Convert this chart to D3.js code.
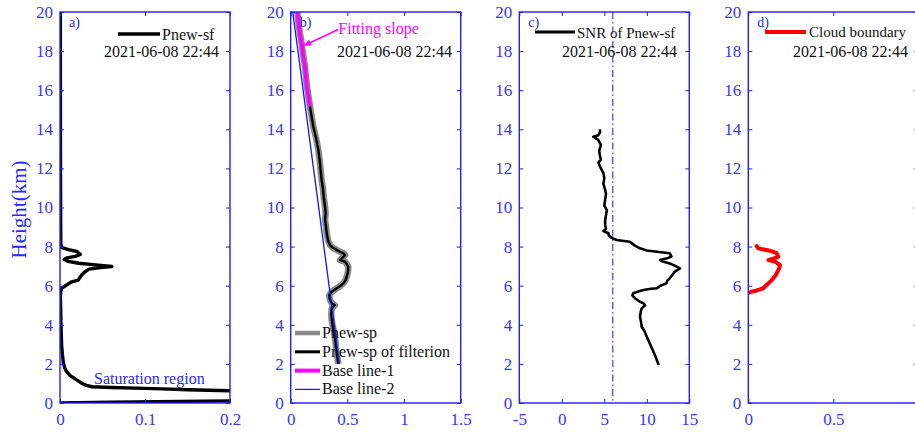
<!DOCTYPE html>
<html>
<head>
<meta charset="utf-8">
<script src="https://cdn.jsdelivr.net/npm/d3@7"></script>
<style>
  html, body { margin: 0; padding: 0; background: #fff; }
  svg { display: block; }
  text { font-family: "Liberation Serif", "Times New Roman", serif; }
</style>
</head>
<body>
<svg id="chart" width="915" height="435"></svg>
<script>
// Lidar profiles, 2021-06-08 22:44 — each series is [height (km), value]
const timeStamp = "2021-06-08 22:44";
const heightTicks = [0, 2, 4, 6, 8, 10, 12, 14, 16, 18, 20];

// a) Pnew-sf
const pnewSf = [
  [0.00, 0.000], [0.04, 0.060], [0.08, 0.140], [0.11, 0.200], [0.13, 0.260],
  [0.35, 1.500], [0.60, 0.250], [0.63, 0.200], [0.68, 0.150], [0.72, 0.120],
  [0.75, 0.100], [0.79, 0.060], [0.83, 0.038], [0.90, 0.031], [1.00, 0.026],
  [1.18, 0.0196], [1.40, 0.012], [1.60, 0.0078], [1.80, 0.0055], [2.03, 0.004],
  [2.50, 0.0028], [2.90, 0.002], [3.50, 0.0015], [4.25, 0.001], [5.00, 0.0007],
  [5.44, 0.0004], [5.70, 0.0008], [5.87, 0.002], [6.04, 0.008], [6.20, 0.0137],
  [6.29, 0.0216], [6.40, 0.023], [6.55, 0.0255], [6.70, 0.029], [6.85, 0.034],
  [6.93, 0.048], [6.98, 0.061], [7.05, 0.045], [7.15, 0.022], [7.25, 0.009],
  [7.35, 0.005], [7.42, 0.008], [7.50, 0.018], [7.60, 0.024], [7.75, 0.020],
  [7.85, 0.010], [7.95, 0.002], [8.10, 0.001], [9.00, 0.0008], [10.0, 0.0007],
  [12.0, 0.0006], [14.0, 0.0005], [16.0, 0.0005], [18.0, 0.0004], [20.0, 0.0004]
];

// b) Pnew-sp (raw and filtered share the same trace)
const pnewSp = [
  [2.00, 0.420], [2.40, 0.410], [2.80, 0.400], [3.39, 0.390], [3.80, 0.375],
  [4.24, 0.362], [4.50, 0.358], [4.84, 0.362], [5.00, 0.390], [5.10, 0.362],
  [5.30, 0.345], [5.52, 0.340], [5.69, 0.362], [5.87, 0.406], [6.00, 0.440],
  [6.12, 0.465], [6.30, 0.485], [6.46, 0.494], [6.70, 0.505], [6.97, 0.508],
  [7.10, 0.495], [7.23, 0.480], [7.31, 0.435], [7.45, 0.460], [7.57, 0.480],
  [7.66, 0.465], [7.75, 0.430], [7.83, 0.406], [7.95, 0.370], [8.08, 0.347],
  [8.30, 0.330], [8.68, 0.318], [9.00, 0.312], [9.36, 0.303], [9.70, 0.308],
  [10.04, 0.303], [10.50, 0.292], [11.00, 0.284], [11.40, 0.273], [11.80, 0.266],
  [12.40, 0.256], [12.94, 0.244], [13.50, 0.226], [14.13, 0.200], [14.60, 0.186],
  [15.16, 0.170], [15.70, 0.156], [16.30, 0.141], [17.20, 0.126], [17.80, 0.110],
  [18.40, 0.096], [18.90, 0.082], [19.40, 0.070], [20.00, 0.058]
];
const fitRange = [15, 20];                  // Base line-1: slope fitted over this height band
const baseLine2 = [[2.0, 0.430], [20.0, 0.018]];
const fitLabelAt = [19.1, 0.42];            // [height, value] of the "Fitting slope" label
const fitArrowTip = [18.26, 0.11];

// c) SNR of Pnew-sf
const snr = [
  [1.94, 11.4], [2.40, 11.0], [2.80, 10.6], [3.10, 10.3], [3.39, 10.0],
  [3.70, 9.7], [3.90, 9.4], [4.20, 9.3], [4.41, 9.2], [4.70, 9.3],
  [4.84, 9.4], [5.00, 9.8], [5.10, 9.6], [5.18, 9.2], [5.36, 8.6],
  [5.50, 8.3], [5.61, 8.4], [5.70, 9.0], [5.78, 9.6], [5.84, 10.5],
  [5.87, 11.2], [6.00, 11.6], [6.12, 12.3], [6.25, 12.4], [6.38, 12.7],
  [6.55, 13.0], [6.72, 13.3], [6.89, 13.9], [7.00, 13.4], [7.14, 12.7],
  [7.25, 11.8], [7.31, 11.55], [7.40, 12.4], [7.49, 12.9], [7.58, 12.8],
  [7.66, 12.7], [7.74, 11.2], [7.80, 10.0], [7.91, 9.2], [8.05, 8.6],
  [8.25, 8.0], [8.34, 6.45], [8.42, 6.0], [8.50, 5.7], [8.60, 5.5],
  [8.68, 5.5], [8.80, 4.9], [8.90, 5.2], [9.10, 5.1], [9.36, 5.1],
  [9.60, 5.2], [9.87, 5.3], [10.1, 5.0], [10.4, 5.1], [10.7, 5.2],
  [10.9, 5.1], [11.2, 4.9], [11.5, 5.0], [11.76, 4.9], [12.0, 4.6],
  [12.3, 4.3], [12.45, 4.6], [12.6, 4.5], [12.9, 4.4], [13.2, 4.6],
  [13.45, 4.3], [13.55, 4.0], [13.62, 3.7], [13.7, 4.3], [13.85, 4.5],
  [14.0, 4.49]
];
const snrThreshold = 6;

// d) Cloud boundary
const cloudBoundary = [
  [5.64, 0.000], [5.70, 0.020], [5.73, 0.039], [5.80, 0.065], [5.87, 0.088],
  [6.00, 0.103], [6.12, 0.118], [6.25, 0.133], [6.38, 0.147], [6.60, 0.165],
  [6.80, 0.176], [6.95, 0.184], [7.06, 0.186], [7.15, 0.170], [7.23, 0.157],
  [7.31, 0.118], [7.40, 0.150], [7.48, 0.176], [7.57, 0.172], [7.66, 0.167],
  [7.79, 0.127], [7.91, 0.059], [8.03, 0.049]
];

// axis settings per panel
const xDomains = [[0, 0.2], [0, 1.5], [-5, 15], [0, 1]];
const xTicks = [[0, 0.1, 0.2], [0, 0.5, 1, 1.5], [-5, 0, 5, 10, 15], [0, 0.5, 1]];
const xTickLabels = [[0, 0.1, 0.2], [0, 0.5, 1, 1.5], [-5, 0, 5, 10, 15], [0, 0.5]]; // last panel runs off the page edge
const panelTags = ["a)", "b)", "c)", "d)"];

// ---------- layout ----------
const AXIS = "#1f1fff", TICKTXT = "#3636ff", FONT = "Liberation Serif, Times New Roman, serif";
const panelLeft = [60, 290.7, 519.3, 748.3];
const panelW = 170, plotTop = 12, plotBottom = 403;

const svg = d3.select("#chart");
const yH = d3.scaleLinear().domain([0, 20]).range([plotBottom, plotTop]);

const panels = panelLeft.map((left, i) => {
  const x = d3.scaleLinear().domain(xDomains[i]).range([left, left + panelW]);
  const g = svg.append("g");
  const clipId = "clip" + i;
  svg.append("clipPath").attr("id", clipId)
    .append("rect").attr("x", left).attr("y", plotTop).attr("width", panelW).attr("height", plotBottom - plotTop);
  const plot = g.append("g").attr("clip-path", `url(#${clipId})`);
  return { x, g, plot, left };
});

function styleAxis(sel) {
  sel.select(".domain").remove();
  sel.selectAll(".tick line").attr("stroke", AXIS).attr("stroke-width", 1);
  sel.selectAll(".tick text").attr("fill", TICKTXT).attr("font-size", 17).attr("font-family", FONT);
}

panels.forEach((p, i) => {
  const { x, g } = p;
  const plain = d => String(d);
  g.append("g").attr("transform", `translate(${p.left},0)`)
    .call(d3.axisLeft(yH).tickValues(heightTicks).tickSize(-4).tickPadding(7).tickFormat(plain))
    .call(styleAxis);
  g.append("g").attr("transform", `translate(${p.left + panelW},0)`)
    .call(d3.axisRight(yH).tickValues(heightTicks).tickSize(-4).tickFormat(""))
    .call(styleAxis);
  g.append("g").attr("transform", `translate(0,${plotBottom})`)
    .call(d3.axisBottom(x).tickValues(xTicks[i]).tickSize(-4).tickPadding(10)
      .tickFormat(d => xTickLabels[i].includes(d) ? String(d) : ""))
    .call(styleAxis);
  g.append("g").attr("transform", `translate(0,${plotTop})`)
    .call(d3.axisTop(x).tickValues(xTicks[i]).tickSize(-4).tickFormat(""))
    .call(styleAxis);
  g.append("rect").attr("x", p.left).attr("y", plotTop).attr("width", panelW).attr("height", plotBottom - plotTop)
    .attr("fill", "none").attr("stroke", AXIS).attr("stroke-width", 1.4);
  g.append("text").attr("x", p.left + 9).attr("y", 27).attr("fill", AXIS)
    .attr("font-size", 14).text(panelTags[i]);
});

// y-axis title
svg.append("text")
  .attr("transform", `translate(26,${(plotTop + plotBottom) / 2 + 2}) rotate(-90)`)
  .attr("text-anchor", "middle").attr("fill", "#2a2aff").attr("font-size", 21)
  .text("Height(km)");

function profileLine(x) {
  return d3.line().x(d => x(d[1])).y(d => yH(d[0]));
}
function stamp(p, rightX) {
  p.g.append("text").attr("x", rightX).attr("y", 57).attr("text-anchor", "end")
    .attr("fill", "#111").attr("font-size", 16).text(timeStamp);
}

// ---------- a) ----------
{
  const p = panels[0];
  p.plot.append("path").datum(pnewSf).attr("d", profileLine(p.x))
    .attr("fill", "none").attr("stroke", "#000").attr("stroke-width", 3.4).attr("stroke-linejoin", "round");
  p.g.append("line").attr("x1", 118).attr("x2", 160).attr("y1", 34).attr("y2", 34)
    .attr("stroke", "#000").attr("stroke-width", 3.5);
  p.g.append("text").attr("x", 162).attr("y", 39.5).attr("font-size", 16).attr("fill", "#111").text("Pnew-sf");
  stamp(p, 219);
  p.g.append("text").attr("x", 94).attr("y", 383.5).attr("font-size", 16).attr("fill", "#2a2aff")
    .text("Saturation region");
}

// ---------- b) ----------
{
  const p = panels[1];
  const line = profileLine(p.x);
  p.plot.append("path").datum(pnewSp).attr("d", line)
    .attr("fill", "none").attr("stroke", "#8a8a8a").attr("stroke-width", 6.5).attr("stroke-linejoin", "round");
  p.plot.append("path").datum(pnewSp).attr("d", line)
    .attr("fill", "none").attr("stroke", "#000").attr("stroke-width", 2.4).attr("stroke-linejoin", "round");
  const fitPart = pnewSp.filter(d => d[0] >= fitRange[0] && d[0] <= fitRange[1]);
  p.plot.append("path").datum(fitPart).attr("d", line)
    .attr("fill", "none").attr("stroke", "#ff00ff").attr("stroke-width", 3.6);
  p.plot.append("path").datum(baseLine2).attr("d", line)
    .attr("fill", "none").attr("stroke", "#1515ff").attr("stroke-width", 1.3);

  // annotation arrow
  const tx = p.x(fitLabelAt[1]), ty = yH(fitLabelAt[0]);
  const hx = p.x(fitArrowTip[1]), hy = yH(fitArrowTip[0]);
  const ang = Math.atan2(hy - ty, hx - tx), L = 8, W = 3.2;
  p.g.append("line").attr("x1", tx).attr("y1", ty).attr("x2", hx - Math.cos(ang) * 4).attr("y2", hy - Math.sin(ang) * 4)
    .attr("stroke", "#ff00ff").attr("stroke-width", 1.6);
  p.g.append("path")
    .attr("d", `M${hx},${hy} L${hx - L * Math.cos(ang) + W * Math.sin(ang)},${hy - L * Math.sin(ang) - W * Math.cos(ang)} ` +
               `L${hx - L * Math.cos(ang) - W * Math.sin(ang)},${hy - L * Math.sin(ang) + W * Math.cos(ang)} Z`)
    .attr("fill", "#ff00ff");
  p.g.append("text").attr("x", tx).attr("y", ty + 4).attr("font-size", 16).attr("fill", "#ff00ff").text("Fitting slope");
  stamp(p, 452);

  const legend = [
    { label: "Pnew-sp", color: "#8a8a8a", w: 4.5 },
    { label: "Pnew-sp of filterion", color: "#000", w: 3 },
    { label: "Base line-1", color: "#ff00ff", w: 4 },
    { label: "Base line-2", color: "#1515ff", w: 1.2 }
  ];
  legend.forEach((d, k) => {
    const y = 333 + k * 18.8;
    p.g.append("line").attr("x1", 295).attr("x2", 320).attr("y1", y).attr("y2", y)
      .attr("stroke", d.color).attr("stroke-width", d.w);
    p.g.append("text").attr("x", 322).attr("y", y + 5).attr("font-size", 16).attr("fill", "#111").text(d.label);
  });
}

// ---------- c) ----------
{
  const p = panels[2];
  p.plot.append("line").attr("x1", p.x(snrThreshold)).attr("x2", p.x(snrThreshold))
    .attr("y1", plotTop).attr("y2", plotBottom)
    .attr("stroke", "#3a3aff").attr("stroke-width", 1.2).attr("stroke-dasharray", "7,3,1.5,3");
  p.plot.append("path").datum(snr).attr("d", profileLine(p.x))
    .attr("fill", "none").attr("stroke", "#000").attr("stroke-width", 2.6).attr("stroke-linejoin", "round");
  p.g.append("line").attr("x1", 535).attr("x2", 575).attr("y1", 32).attr("y2", 32)
    .attr("stroke", "#000").attr("stroke-width", 3);
  p.g.append("text").attr("x", 577).attr("y", 38).attr("font-size", 15).attr("fill", "#111").text("SNR of Pnew-sf");
  stamp(p, 677);
}

// ---------- d) ----------
{
  const p = panels[3];
  p.plot.append("path").datum(cloudBoundary).attr("d", profileLine(p.x))
    .attr("fill", "none").attr("stroke", "#ff0000").attr("stroke-width", 4).attr("stroke-linejoin", "round")
    .attr("stroke-linecap", "round");
  p.g.append("line").attr("x1", 765).attr("x2", 806).attr("y1", 32).attr("y2", 32)
    .attr("stroke", "#ff0000").attr("stroke-width", 4);
  p.g.append("text").attr("x", 809).attr("y", 37).attr("font-size", 15).attr("fill", "#111").text("Cloud boundary");
  stamp(p, 908);
}
</script>
</body>
</html>
